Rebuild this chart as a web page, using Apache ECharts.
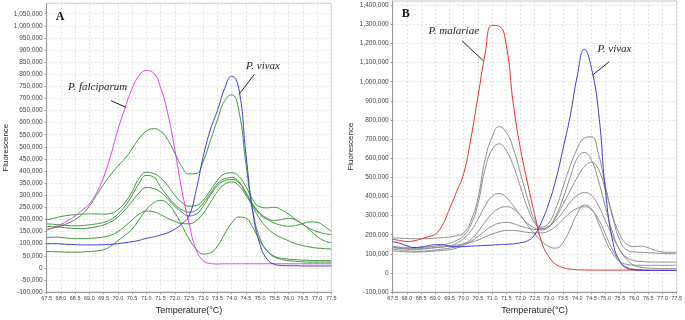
<!DOCTYPE html>
<html><head><meta charset="utf-8">
<script src="https://cdn.jsdelivr.net/npm/echarts@6/dist/echarts.min.js"></script>
<style>html,body{margin:0;padding:0;background:#fff}#c{width:685px;height:320px}</style>
</head><body><div id="c"></div>
<script>
// Temperature (°C) sample points
const temps = [67.5,67.75,68.0,68.25,68.5,68.75,69.0,69.25,69.5,69.75,70.0,70.25,70.5,70.75,71.0,71.25,71.5,71.75,72.0,72.25,72.5,72.75,73.0,73.25,73.5,73.75,74.0,74.25,74.5,74.75,75.0,75.25,75.5,75.75,76.0,76.25,76.5,76.75,77.0,77.25,77.5];

// Panel A (fluorescence, thousands)
const aFalciparum = [158,168,180,196,215,238,265,310,375,465,570,660,740,795,815,805,745,640,490,320,185,75,30,18,16,17,17,17,17,17,17,17,17,17,17,17,17,17,17,17,17];
const aVivax = [100,100,99,97,96,95,95,95,96,97,100,104,108,114,122,128,136,145,160,182,215,320,460,570,650,740,792,740,470,225,95,35,15,10,9,9,8,8,8,8,8];
const aGreen1 = [158,165,173,185,200,222,255,300,345,385,420,452,492,535,565,575,565,530,475,418,388,390,440,525,612,690,715,650,430,230,120,70,45,35,30,27,25,24,24,24,24];
const aGreen2 = [199,205,212,217,220,222,223,223,222,225,240,270,315,370,395,390,372,340,300,270,255,258,280,320,362,388,393,378,335,280,252,248,250,240,222,200,180,162,150,142,138];
const aGreen3 = [182,180,177,175,174,175,178,182,188,200,222,255,300,350,382,375,335,295,262,240,230,238,268,308,348,368,373,357,312,262,225,205,195,200,205,198,180,155,130,112,104];
const aGreen4 = [171,170,168,165,163,163,165,170,178,190,210,240,275,310,332,328,313,285,255,230,215,222,255,300,340,360,365,352,308,258,220,200,185,176,172,175,183,190,188,172,151];
const aGreen5 = [125,127,126,123,121,121,122,124,128,135,150,172,198,222,235,232,220,205,192,183,182,195,225,270,315,345,355,340,300,250,200,165,140,125,112,100,92,86,82,80,78];
const aGreen6 = [68,67,66,65,65,66,68,70,75,90,112,135,160,200,240,268,279,265,228,175,120,78,57,62,90,140,185,210,205,165,110,70,48,40,36,34,32,31,30,30,30];

// Panel B (fluorescence, thousands)
const bMalariae = [176,170,165,168,178,190,203,250,335,425,520,700,920,1140,1295,1290,1190,880,650,470,305,160,85,45,28,20,17,16,15,15,15,15,15,15,15,15,14,14,14,14,14];
const bVivax = [164,155,142,133,136,142,148,148,140,137,138,140,142,144,146,148,150,152,158,168,200,270,365,490,650,820,1030,1170,1070,840,420,165,60,25,17,14,13,13,13,13,13];
const bGray1 = [184,182,180,179,179,180,182,185,188,195,210,270,390,590,710,765,735,650,520,390,275,240,262,340,450,560,650,705,712,620,450,300,200,150,138,140,132,118,110,108,108];
const bGray2 = [140,135,132,131,133,136,140,146,155,170,195,250,360,540,645,675,640,560,450,340,262,232,245,300,390,500,600,630,590,480,340,210,120,80,65,60,58,57,57,57,57];
const bGray3 = [133,128,125,124,125,128,132,136,142,155,180,220,280,350,400,415,395,350,300,260,235,225,240,290,360,430,500,555,578,540,430,290,170,120,110,108,106,104,102,101,101];
const bGray4 = [125,120,116,114,114,116,120,125,130,138,152,175,215,265,310,338,346,335,300,250,205,165,138,130,160,230,310,355,335,260,170,100,60,45,41,40,40,40,40,40,40];
const bGray5 = [116,112,110,109,110,112,115,118,122,130,145,165,190,220,245,260,264,258,245,235,228,230,245,275,320,370,405,420,405,350,270,190,120,70,40,30,26,24,23,23,23];
const bGray6 = [135,130,127,126,127,130,133,136,140,145,152,160,172,188,203,215,222,222,218,212,210,210,220,245,280,315,338,346,330,280,200,120,60,30,20,16,15,14,14,14,14];

const COL = {magenta:'#e83ae8', blue:'#3c3cd0', green:'#3a963a', red:'#e8302c', gray:'#8c8c8c'};

function pairs(vals){ return vals.map((v,i)=>[temps[i], v*1000]); }
function line(name, vals, color, idx){
  return {name, type:'line', xAxisIndex:idx, yAxisIndex:idx, data:pairs(vals), smooth:0.5,
    showSymbol:false, symbol:'none', silent:true, lineStyle:{color, width:1}, itemStyle:{color}};
}
const fmtY = v => Math.round(v).toLocaleString('en-US');
function xAx(gi){
  return {gridIndex:gi, type:'value', min:67.5, max:77.5, interval:0.5,
    axisLine:{show:true, onZero:false, lineStyle:{color:'#999'}},
    axisTick:{show:true, length:2, lineStyle:{color:'#999'}},
    axisLabel:{fontSize:5.5, color:'#444', margin:3, fontFamily:'Liberation Sans', formatter:v=>v.toFixed(1)},
    splitLine:{show:true, lineStyle:{color:'#e2e2e2', type:[2,2]}},
    name:'Temperature(°C)', nameLocation:'middle', nameGap:11,
    nameTextStyle:{fontSize:9, color:'#222', fontFamily:'Liberation Sans'}};
}
function yAx(gi, max, interval, gap){
  return {gridIndex:gi, type:'value', min:-100000, max, interval,
    axisLine:{show:true, onZero:false, lineStyle:{color:'#999'}},
    axisTick:{show:true, length:2, lineStyle:{color:'#999'}},
    axisLabel:{fontSize:6.5, color:'#444', margin:4, fontFamily:'Liberation Sans', formatter:fmtY, showMaxLabel:false},
    splitLine:{show:true, lineStyle:{color:'#e2e2e2', type:[2,2]}},
    name:'Fluorescence', nameLocation:'middle', nameGap:gap,
    nameTextStyle:{fontSize:8, color:'#222', fontFamily:'Liberation Sans'}};
}

const chart = echarts.init(document.getElementById('c'), null, {renderer:'canvas'});
chart.setOption({
  animation:false,
  backgroundColor:'#fff',
  grid:[
    {left:46.7, top:3.3, width:284.6, height:295.7, show:true, borderColor:'#c4c4c4', borderWidth:1, backgroundColor:'transparent'},
    {left:392.7, top:1, width:287.3, height:298, show:true, borderColor:'#c4c4c4', borderWidth:1, backgroundColor:'transparent'}
  ],
  xAxis:[xAx(0), xAx(1)],
  yAxis:[yAx(0, 1093000, 50000, 33), yAx(1, 1422000, 100000, 38)],
  series:[
    line('A6', aGreen6, COL.green, 0),
    line('A5', aGreen5, COL.green, 0),
    line('A4', aGreen4, COL.green, 0),
    line('A3', aGreen3, COL.green, 0),
    line('A2', aGreen2, COL.green, 0),
    line('A1', aGreen1, COL.green, 0),
    line('P. falciparum', aFalciparum, COL.magenta, 0),
    line('P. vivax A', aVivax, COL.blue, 0),
    line('B6', bGray6, COL.gray, 1),
    line('B5', bGray5, COL.gray, 1),
    line('B4', bGray4, COL.gray, 1),
    line('B3', bGray3, COL.gray, 1),
    line('B2', bGray2, COL.gray, 1),
    line('B1', bGray1, COL.gray, 1),
    line('P. malariae', bMalariae, COL.red, 1),
    line('P. vivax B', bVivax, COL.blue, 1)
  ]
});

// annotations placed in data coordinates
const notes = [
  {g:0, text:'P. falciparum', at:[69.29, 745000], from:[69.76, 691000], to:[70.29, 663000]},
  {g:0, text:'P. vivax', at:[75.1, 834000], from:[74.80, 800000], to:[74.25, 716000]},
  {g:1, text:'P. malariae', at:[69.65, 1264000], from:[69.94, 1214000], to:[70.71, 1107000]},
  {g:1, text:'P. vivax', at:[75.31, 1172000], from:[75.12, 1104000], to:[74.54, 1035000]}
];
const panels = [{g:0, text:'A', at:[67.97, 1038000]}, {g:1, text:'B', at:[67.96, 1355000]}];
const els = [];
notes.forEach(n=>{
  const p = chart.convertToPixel({gridIndex:n.g}, n.at);
  const a = chart.convertToPixel({gridIndex:n.g}, n.from);
  const b = chart.convertToPixel({gridIndex:n.g}, n.to);
  els.push({type:'text', silent:true, style:{text:n.text, x:p[0], y:p[1], fill:'#222',
    font:'italic 11px "Liberation Serif"', align:'center', verticalAlign:'middle', textAlign:'center', textVerticalAlign:'middle'}});
  els.push({type:'line', silent:true, shape:{x1:a[0], y1:a[1], x2:b[0], y2:b[1]}, style:{stroke:'#222', lineWidth:1}});
});
panels.forEach(n=>{
  const p = chart.convertToPixel({gridIndex:n.g}, n.at);
  els.push({type:'text', silent:true, style:{text:n.text, x:p[0], y:p[1], fill:'#111',
    font:'bold 12px "Liberation Serif"', align:'center', verticalAlign:'middle', textAlign:'center', textVerticalAlign:'middle'}});
});
chart.setOption({graphic:els});
</script></body></html>
